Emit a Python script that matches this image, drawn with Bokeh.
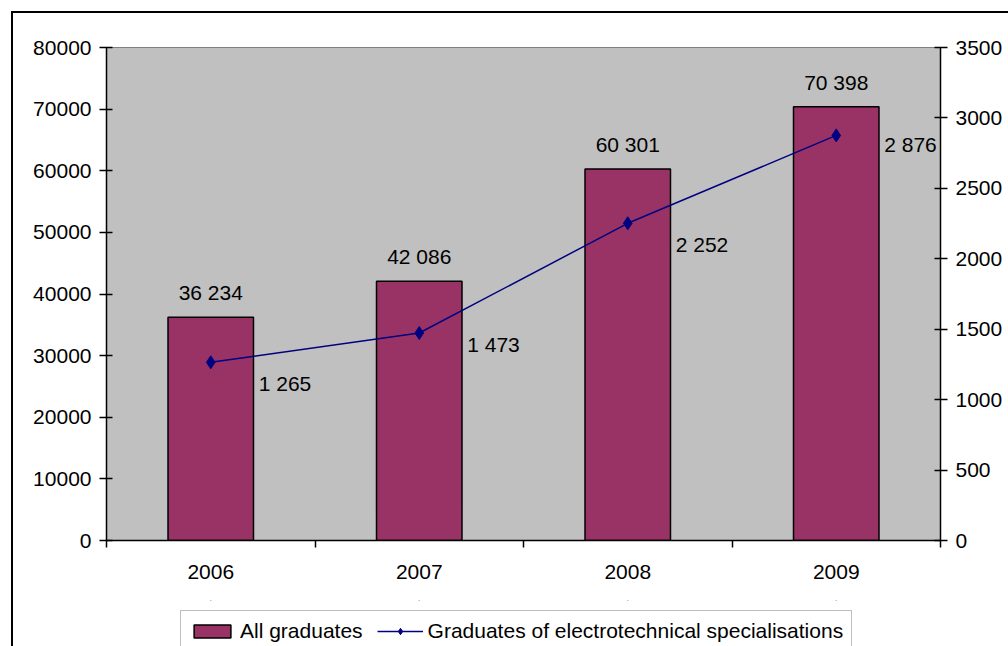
from bokeh.plotting import figure
from bokeh.layouts import column
from bokeh.models import (Range1d, LinearAxis, FixedTicker, SingleIntervalTicker,
                          ColumnDataSource, Legend, LegendItem, InlineStyleSheet)
from bokeh.embed import file_html
from bokeh.resources import INLINE

# ---- data ----
years = ["2006", "2007", "2008", "2009"]
all_graduates = [36234, 42086, 60301, 70398]
electro_graduates = [1265, 1473, 2252, 2876]
left_ticks_max = 80000
right_ticks_max = 3500
series_names = ["All graduates", "Graduates of electrotechnical specialisations"]

# ---- styling ----
FONT = "Liberation Sans"
FS = "21px"
BAR_COLOR = "#993366"
LINE_COLOR = "#000080"
PLOT_BG = "#c0c0c0"
line_label_dy = [21, 11, 21, 9]

def fmt(v):
    return f"{v:,}".replace(",", " ")

xs = [i + 0.5 for i in range(len(years))]

bar_src = ColumnDataSource(dict(x=xs, y=all_graduates,
                                label=[fmt(v) for v in all_graduates]))
line_src = ColumnDataSource(dict(x=xs, y=electro_graduates,
                                 label=[fmt(v) for v in electro_graduates],
                                 dy=line_label_dy))

MAIN_H = 600
p = figure(width=1008, height=MAIN_H, output_backend="svg", toolbar_location=None,
           x_range=Range1d(0, len(years)), y_range=Range1d(0, left_ticks_max),
           min_border_left=106, min_border_right=68, min_border_top=47,
           min_border_bottom=MAIN_H - 540, x_axis_type=None, y_axis_type=None)
p.background_fill_color = PLOT_BG
p.border_fill_color = "white"
p.outline_line_color = "#808080"
p.outline_line_width = 1
p.xgrid.visible = False
p.ygrid.visible = False
p.extra_y_ranges = {"right": Range1d(0, right_ticks_max)}

def style_axis(ax):
    ax.axis_line_color = "black"
    ax.axis_line_width = 1.5
    ax.major_tick_line_color = "black"
    ax.major_tick_line_width = 1.5
    ax.major_label_text_font = FONT
    ax.major_label_text_font_size = FS
    ax.major_label_text_color = "black"

# left axis
yl = LinearAxis(ticker=SingleIntervalTicker(interval=10000, num_minor_ticks=0))
style_axis(yl)
yl.major_tick_in = 6
yl.major_tick_out = 7
yl.minor_tick_line_color = None
yl.major_label_standoff = 8
p.add_layout(yl, "left")

# right axis
yr = LinearAxis(y_range_name="right",
                ticker=SingleIntervalTicker(interval=500, num_minor_ticks=0))
style_axis(yr)
yr.major_tick_in = 6
yr.major_tick_out = 7
yr.minor_tick_line_color = None
yr.major_label_standoff = 8
p.add_layout(yr, "right")

# bottom axis: labels at category centres, ticks at boundaries
xa = LinearAxis(ticker=FixedTicker(ticks=xs, minor_ticks=list(range(len(years) + 1))))
style_axis(xa)
xa.major_label_overrides = {x: y for x, y in zip(xs, years)}
xa.major_tick_in = 0
xa.major_tick_out = 0
xa.minor_tick_in = 0
xa.minor_tick_out = 7
xa.minor_tick_line_color = "black"
xa.minor_tick_line_width = 1.5
xa.major_label_standoff = 17
p.add_layout(xa, "below")

BAR_STYLE = dict(fill_color=BAR_COLOR, line_color="black", line_width=1.5)
LINE_STYLE = dict(line_color=LINE_COLOR, line_width=1.5)
MARK_STYLE = dict(marker="diamond", size=13, fill_color=LINE_COLOR, line_color=LINE_COLOR)

# bars
p.vbar(x="x", top="y", width=0.41, source=bar_src, **BAR_STYLE)

# line
p.line(x="x", y="y", source=line_src, y_range_name="right", **LINE_STYLE)
p.scatter(x="x", y="y", source=line_src, y_range_name="right", **MARK_STYLE)

# data labels
p.text(x="x", y="y", text="label", source=bar_src, text_align="center",
       text_baseline="bottom", y_offset=-13, text_font={"value": FONT},
       text_font_size=FS, text_color="black")
p.text(x="x", y="y", text="label", source=line_src, y_range_name="right",
       text_align="left", text_baseline="middle", x_offset=48, y_offset="dy",
       text_font={"value": FONT}, text_font_size=FS, text_color="black")

# ---- legend strip (separate canvas under the chart) ----
# same series drawn again, but with ranges placing them well above the view
# (and zero-width bars): only the legend is visible on this strip
LEG_H = 646 - MAIN_H
pl = figure(width=1008, height=LEG_H, output_backend="svg", toolbar_location=None,
            x_range=Range1d(0, len(years)),
            y_range=Range1d(-2 * left_ticks_max, -left_ticks_max),
            min_border_left=0, min_border_right=0, min_border_top=0,
            min_border_bottom=0, x_axis_type=None, y_axis_type=None)
pl.xgrid.visible = False
pl.ygrid.visible = False
pl.outline_line_color = None
pl.background_fill_color = "white"
pl.border_fill_color = "white"
pl.extra_y_ranges = {"right": Range1d(-2 * right_ticks_max, -right_ticks_max)}
leg_bar = pl.vbar(x="x", top="y", width=0, source=bar_src, **BAR_STYLE)
leg_line = pl.line(x="x", y="y", source=line_src, y_range_name="right", **LINE_STYLE)
leg_pts = pl.scatter(x="x", y="y", source=line_src, y_range_name="right", **MARK_STYLE)

legend = Legend(items=[LegendItem(label=series_names[0], renderers=[leg_bar]),
                       LegendItem(label=series_names[1], renderers=[leg_line, leg_pts])],
                orientation="horizontal", location=(74, -6),
                padding=8, spacing=14, glyph_width=46, glyph_height=16,
                label_standoff=5, label_height=20, margin=0,
                label_text_font=FONT, label_text_font_size=FS,
                label_text_color="black",
                border_line_color="#808080", border_line_width=1,
                background_fill_color="white", background_fill_alpha=1)
pl.add_layout(legend, "center")

layout = column(p, pl, spacing=0)

# outer chart frame (top and left edges visible; right/bottom run off the page)
layout.stylesheets = [InlineStyleSheet(css="""
:host::after {
  content: '';
  position: absolute;
  left: 11px;
  top: 11px;
  width: calc(100% - 13px);
  height: calc(100% - 13px);
  border-top: 2px solid black;
  border-left: 2px solid black;
  pointer-events: none;
  z-index: 100;
}
""")]

open("out.html", "w").write(file_html(layout, INLINE))
